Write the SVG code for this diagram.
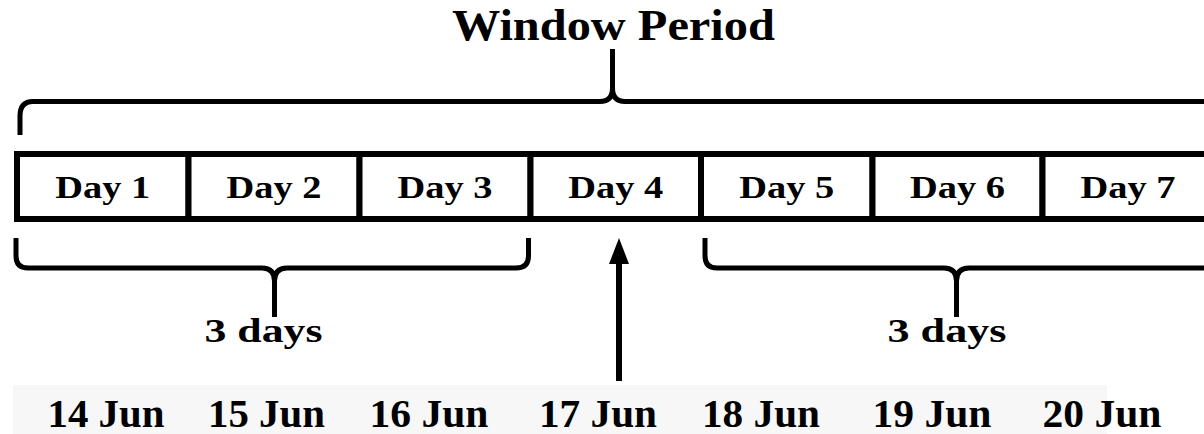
<svg xmlns="http://www.w3.org/2000/svg" width="1204" height="434" viewBox="0 0 1204 434">
  <style>
    .t { font-family: 'Liberation Serif', 'Times New Roman', Times, serif; font-weight: 700; fill: #000; text-anchor: middle; }
    .day { font-size: 32px; }
    .date { font-size: 40px; }
    .lbl { font-size: 33px; }
    .brace { fill: none; stroke: #000; stroke-width: 5; stroke-linecap: butt; stroke-linejoin: round; }
    .cell { fill: #fff; stroke: #000; stroke-width: 6; }
  </style>
  <rect width="1204" height="434" fill="#fff"/>
  <rect x="13" y="385" width="1094" height="49" fill="#f7f7f7"/>

  <g id="title">
    <text class="t" x="613.4" y="40" font-size="45" textLength="323" lengthAdjust="spacingAndGlyphs">Window Period</text>
  </g>

  <g id="day1"><rect class="cell" x="17" y="154" width="171.5" height="65"/><text class="t day" x="102.75" y="198" textLength="95" lengthAdjust="spacingAndGlyphs">Day 1</text></g>
  <g id="day2"><rect class="cell" x="188.5" y="154" width="171" height="65"/><text class="t day" x="274" y="198" textLength="95" lengthAdjust="spacingAndGlyphs">Day 2</text></g>
  <g id="day3"><rect class="cell" x="359.5" y="154" width="171" height="65"/><text class="t day" x="445" y="198" textLength="95" lengthAdjust="spacingAndGlyphs">Day 3</text></g>
  <g id="day4"><rect class="cell" x="530.5" y="154" width="170.5" height="65"/><text class="t day" x="615.75" y="198" textLength="95" lengthAdjust="spacingAndGlyphs">Day 4</text></g>
  <g id="day5"><rect class="cell" x="701" y="154" width="171.5" height="65"/><text class="t day" x="786.75" y="198" textLength="95" lengthAdjust="spacingAndGlyphs">Day 5</text></g>
  <g id="day6"><rect class="cell" x="872.5" y="154" width="170" height="65"/><text class="t day" x="957.5" y="198" textLength="95" lengthAdjust="spacingAndGlyphs">Day 6</text></g>
  <g id="day7"><rect class="cell" x="1042.5" y="154" width="171" height="65"/><text class="t day" x="1128" y="198" textLength="95" lengthAdjust="spacingAndGlyphs">Day 7</text></g>

  <g id="connectors">
    <path class="brace" d="M20,135 V116 Q20,101.5 33,101.5 H600 Q612.5,101.5 612.5,88 V49 M612.5,88 Q612.5,101.5 625,101.5 H1210"/>
    <path class="brace" d="M16,238 V256 Q16,268 28,268 H262 Q274.5,268 274.5,281 V317 M274.5,281 Q274.5,268 287,268 H516 Q528.5,268 528.5,256 V238"/>
    <path class="brace" d="M705,238 V256 Q705,268 717,268 H944 Q956.5,268 956.5,281 V317 M956.5,281 Q956.5,268 969,268 H1210"/>
    <line x1="619" y1="381" x2="619" y2="260" stroke="#000" stroke-width="6"/>
    <polygon points="619,238 609,264 629,264" fill="#000"/>
  </g>

  <g id="span-left"><text class="t lbl" x="263.5" y="342" textLength="118" lengthAdjust="spacingAndGlyphs">3 days</text></g>
  <g id="span-right"><text class="t lbl" x="947" y="342" textLength="119" lengthAdjust="spacingAndGlyphs">3 days</text></g>

  <g id="dates">
    <text class="t date" x="106" y="427" textLength="117" lengthAdjust="spacingAndGlyphs">14 Jun</text>
    <text class="t date" x="266.5" y="427" textLength="117" lengthAdjust="spacingAndGlyphs">15 Jun</text>
    <text class="t date" x="429" y="427" textLength="119" lengthAdjust="spacingAndGlyphs">16 Jun</text>
    <text class="t date" x="598" y="427" textLength="118" lengthAdjust="spacingAndGlyphs">17 Jun</text>
    <text class="t date" x="761" y="427" textLength="118" lengthAdjust="spacingAndGlyphs">18 Jun</text>
    <text class="t date" x="932" y="427" textLength="119" lengthAdjust="spacingAndGlyphs">19 Jun</text>
    <text class="t date" x="1102" y="427" textLength="119" lengthAdjust="spacingAndGlyphs">20 Jun</text>
  </g>
</svg>
